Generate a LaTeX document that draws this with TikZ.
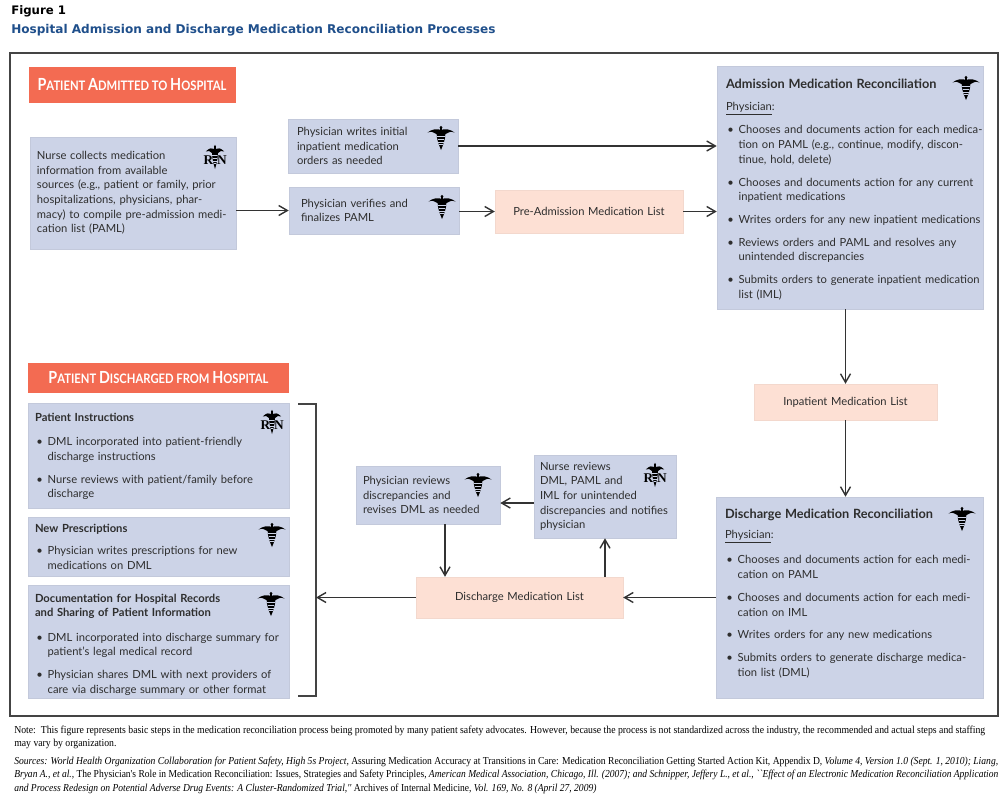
\documentclass[tikz,border=0pt]{standalone}
\usepackage{fontspec}
\usepackage{graphicx}
\usetikzlibrary{arrows.meta}
\setmainfont{Lato}
\newfontfamily\titlefont{DejaVu Sans}
\newfontfamily\headfont[FakeStretch=0.86]{Lato}
\newfontfamily\notefont[FakeStretch=0.915]{Liberation Serif}
\newfontfamily\sourcefont[FakeStretch=0.895]{Liberation Serif}
\newfontfamily\rnfont{Liberation Serif}
\definecolor{boxblue}{HTML}{CCD3E7}
\definecolor{boxpink}{HTML}{FDE0D4}
\definecolor{headred}{HTML}{F36B52}
\definecolor{titleblue}{HTML}{1F4F8B}
\definecolor{lineC}{HTML}{333333}
\definecolor{frameC}{HTML}{444444}
\definecolor{textC}{HTML}{2E2E2E}
\newlength{\pxu}\setlength{\pxu}{0.75pt}
\newlength{\boxw}
\newcommand{\mkbox}[8]{%
  \setlength{\boxw}{\dimexpr #6\pxu-#4\pxu\relax}%
  \node[#2,text width=\boxw,minimum height={(#7-#5)*0.75pt}] (#1) at ({(#4+#6)/2},{(#5+#7)/2}) {\leftskip=#3\pxu\relax #8\par};}
\newcommand{\blt}[2]{\par\vspace{#1}\noindent\hangindent=9.5pt\hangafter=1\makebox[9.5pt][l]{\kern1pt\textbullet}#2\par}
\newcommand{\capsm}[2]{{\fontsize{12.5}{14}\selectfont #1}{\fontsize{9.8}{14}\selectfont #2}}
\tikzset{
  x=0.75pt,y=-0.75pt,
  box/.style={inner sep=0pt,align=left,text=textC,font=\fontsize{8.4}{11}\selectfont},
  bluebox/.style={box,fill=boxblue,draw=boxblue!88!gray,line width=0.4pt},
  pinkbox/.style={box,fill=boxpink,draw=boxpink!92!gray,line width=0.3pt},
  headbox/.style={fill=headred,inner sep=0pt,text=white,align=center,font=\headfont\bfseries},
  arr/.style={draw=lineC,line width=1.05pt,-{Straight Barb[length=6.5pt,width=7.5pt]}},
  frame/.style={draw=frameC,line width=1.2pt},
  notetext/.style={inner sep=0pt,anchor=west,align=left,text=black,font=\notefont\fontsize{8}{10.2}\selectfont},
  sourcetext/.style={notetext,font=\sourcefont\fontsize{8}{10.2}\selectfont},
  cad/.pic={
    \fill[black] (0,-10.6) circle (1.5);
    \fill[black] (-1,-10) rectangle (1,-6);
    \fill[black] (0,-8) .. controls (-4,-9.5) and (-9,-9) .. (-13.5,-5.5)
       .. controls (-10,-6.8) and (-7,-6) .. (-4.5,-4) -- (4.5,-4)
       .. controls (7,-6) and (10,-6.8) .. (13.5,-5.5)
       .. controls (9,-9) and (4,-9.5) .. (0,-8) -- cycle;
    \fill[black] (-4.4,-5) .. controls (-4.4,1) and (-2.5,6) .. (0,12)
       .. controls (2.5,6) and (4.4,1) .. (4.4,-5) -- cycle;
    \foreach \yy/\ww in {-1.6/3.8,1.1/3.3,3.8/2.7,6.4/1.9}{
      \draw[boxblue,line width=0.45pt] (-\ww,\yy) -- (\ww,\yy);}
  },
  rnmark/.pic={
    \pic[xscale=0.68] at (0,0) {cad};
    \node[inner sep=0pt,font=\rnfont\bfseries\fontsize{10}{10}\selectfont,text=black] (rnR#1) at (-6.5,3.2) {R};
    \node[inner sep=0pt,font=\rnfont\bfseries\fontsize{10}{10}\selectfont,text=black] (rnN#1) at (7,3.2) {N};
  },
  rnmark/.default={}
}
\begin{document}
\begin{tikzpicture}
\useasboundingbox (0,0) rectangle (1005,800);
\fill[white] (0,0) rectangle (1005,800);

\node[inner sep=0pt,anchor=west,font=\titlefont\bfseries\fontsize{8.8}{11}\selectfont,text=black] (figlabel) at (11,11) {Figure 1};
\node[inner sep=0pt,anchor=west,font=\titlefont\bfseries\fontsize{9.05}{11}\selectfont,text=titleblue] (figtitle) at (11,30) {Hospital Admission and Discharge Medication Reconciliation Processes};

\draw[frame] (10,53) rectangle (998,716);

\node[headbox,minimum width=155.25pt,minimum height=27pt] (headA) at (132,84.5) {\capsm{P}{ATIENT} \capsm{A}{DMITTED TO} \capsm{H}{OSPITAL}};
\node[headbox,minimum width=195.75pt,minimum height=22.5pt] (headD) at (158.5,378) {\capsm{P}{ATIENT} \capsm{D}{ISCHARGED FROM} \capsm{H}{OSPITAL}};

\mkbox{nurse}{bluebox}{7}{30}{137}{236}{249}{Nurse collects medication\\information from available\\sources (e.g., patient or family, prior\\hospitalizations, physicians, phar-\\macy) to compile pre-admission medi-\\cation list (PAML)}
\mkbox{writes}{bluebox}{9}{288}{119}{458}{173}{Physician writes initial\\inpatient medication\\orders as needed}
\mkbox{verifies}{bluebox}{12}{289}{187}{459}{234}{Physician verifies and\\finalizes PAML}
\mkbox{pre}{pinkbox}{0}{495}{190}{683}{233}{\centering Pre-Admission Medication List}
\mkbox{adm}{bluebox}{9}{717}{66}{983}{309}{\rule{0pt}{10pt}{\bfseries\fontsize{9.55}{11}\selectfont Admission Medication Reconciliation}\par\vspace{5.3pt}\underline{Physician}:\par
\blt{6.6pt}{Chooses and documents action for each medica-\newline tion on PAML (e.g., continue, modify, discon-\newline tinue, hold, delete)}
\blt{6.4pt}{Chooses and documents action for any current\newline inpatient medications}
\blt{6pt}{Writes orders for any new inpatient medications}
\blt{6pt}{Reviews orders and PAML and resolves any\newline unintended discrepancies}
\blt{6pt}{Submits orders to generate inpatient medication\newline list (IML)}}
\mkbox{inp}{pinkbox}{0}{754}{384}{937}{420}{\centering Inpatient Medication List}
\mkbox{dis}{bluebox}{9}{716}{497}{983}{698}{{\bfseries\fontsize{9.55}{11}\selectfont Discharge Medication Reconciliation}\par\vspace{4.2pt}\underline{Physician}:\par
\blt{7.8pt}{Chooses and documents action for each medi-\newline cation on PAML}
\blt{6.4pt}{Chooses and documents action for each medi-\newline cation on IML}
\blt{5.6pt}{Writes orders for any new medications}
\blt{6.2pt}{Submits orders to generate discharge medica-\newline tion list (DML)}\vspace*{6pt}}
\mkbox{dml}{pinkbox}{0}{416}{577}{623}{618}{\centering Discharge Medication List}
\mkbox{nrev}{bluebox}{6}{534}{455}{676}{538}{Nurse reviews\\DML, PAML and\\IML for unintended\\discrepancies and notifies\\physician}
\mkbox{prev}{bluebox}{7}{356}{466}{500}{524}{Physician reviews\\discrepancies and\\revises DML as needed}
\mkbox{inst}{bluebox}{7}{28}{403}{289}{508}{\rule{0pt}{7.7pt}{\bfseries Patient Instructions}\par
\blt{7pt}{DML incorporated into patient-friendly\newline discharge instructions}
\blt{6.2pt}{Nurse reviews with patient/family before\newline discharge}}
\mkbox{presc}{bluebox}{7}{28}{517}{289}{576}{{\bfseries New Prescriptions}\par
\blt{5.6pt}{Physician writes prescriptions for new\newline medications on DML}}
\mkbox{docs}{bluebox}{7}{28}{585}{289}{698}{\rule{0pt}{10.7pt}{\bfseries Documentation for Hospital Records\newline and Sharing of Patient Information}\par
\blt{7.2pt}{DML incorporated into discharge summary for\newline patient's legal medical record}
\blt{6pt}{Physician shares DML with next providers of\newline care via discharge summary or other format}}

\pic at (441,138) {cad};
\pic at (442,207) {cad};
\pic at (966,88) {cad};
\pic at (962,519) {cad};
\pic at (272,535) {cad};
\pic at (271,604) {cad};
\pic at (478,485) {cad};
\pic at (215,157) {rnmark=a};
\pic at (272,422) {rnmark=b};
\pic at (655,475) {rnmark=c};

\coordinate (brk) at (316,597);
\draw[frame,line width=1.1pt] (298,404) -- (316,404) -- (316,696) -- (298,696);

\draw[arr] (verifies.west -| nurse.east) -- (verifies.west);
\draw[arr] (writes.east) -- (writes.east -| adm.west);
\draw[arr] (pre.west -| verifies.east) -- (pre.west);
\draw[arr] (pre.east) -- (pre.east -| adm.west);
\draw[arr] (inp.north |- adm.south) -- (inp.north);
\draw[arr] (inp.south) -- (inp.south |- dis.north);
\draw[arr] (dml.east -| dis.west) -- (dml.east);
\draw[arr] (nrev.south |- dml.north) -- (nrev.south);
\draw[arr] ([yshift=-4.9pt]nrev.west) -- ([yshift=-4.9pt]nrev.west -| prev.east);
\draw[arr] ([xshift=12.75pt]prev.south) -- ([xshift=12.75pt]prev.south |- dml.north);
\draw[arr] (dml.west) -- (dml.west -| brk);

\node[notetext] (note) at (14,737.5) {Note:\ \ This figure represents basic steps in the medication reconciliation process being promoted by many patient safety advocates. However, because the process is not standardized across the industry, the recommended and actual steps and staffing\\may vary by organization.};
\node[sourcetext] (sources) at (14,775) {\scalebox{1.005}[1]{\emph{Sources: World Health Organization Collaboration for Patient Safety, High 5s Project,} Assuring Medication Accuracy at Transitions in Care: Medication Reconciliation Getting Started Action Kit, Appendix D, \emph{Volume 4, Version 1.0 (Sept. 1, 2010); Liang,}}\\\scalebox{0.996}[1]{\emph{Bryan A., et al.,} The Physician's Role in Medication Reconciliation: Issues, Strategies and Safety Principles, \emph{American Medical Association, Chicago, Ill. (2007); and Schnipper, Jeffery L., et al., ``Effect of an Electronic Medication Reconciliation Application}}\\\emph{and Process Redesign on Potential Adverse Drug Events: A Cluster-Randomized Trial,''} Archives of Internal Medicine, \emph{Vol. 169, No. 8 (April 27, 2009)}};
\end{tikzpicture}
\end{document}
